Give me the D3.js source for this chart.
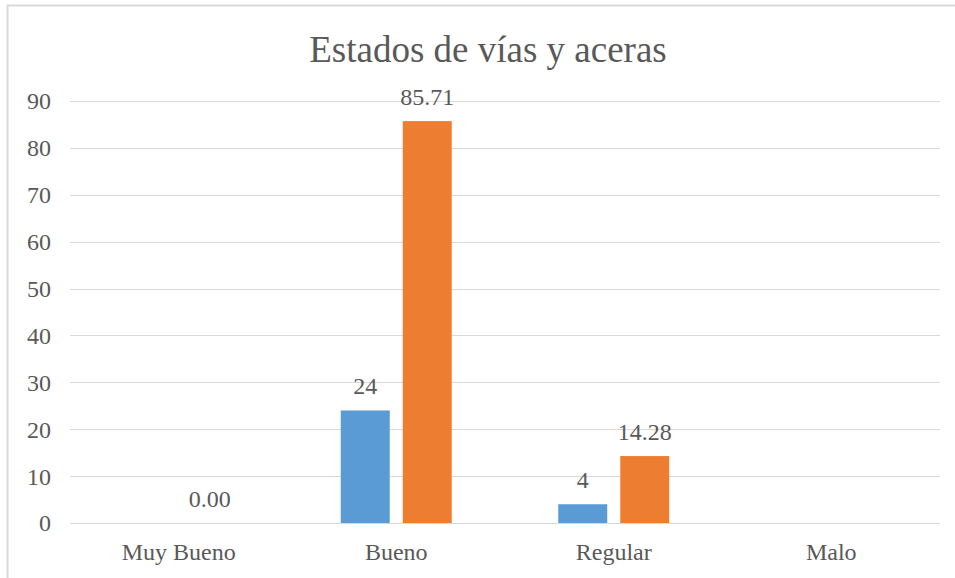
<!DOCTYPE html>
<meta charset="utf-8">
<style>
body { margin: 0; background: #fff; }
svg { display: block; }
svg text { font-family: "Times New Roman", "Liberation Serif", Tinos, "DejaVu Serif", serif; }
.grid line { stroke: #d9d9d9; stroke-width: 1px; }
.tick-label, .cat-label, .bar-label { fill: #595959; font-size: 24px; }
.title { fill: #595959; font-size: 37px; }
</style>
<div id="chart"></div>
<script src="https://d3js.org/d3.v7.min.js"></script>
<script>
  var categories = ["Muy Bueno", "Bueno", "Regular", "Malo"];
  var seriesBlue = [null, 24, 4, null];
  var seriesOrange = [0, 85.71, 14.28, null];
  var labelsBlue = [null, "24", "4", null];
  var labelsOrange = ["0.00", "85.71", "14.28", null];
  var yTicks = [0, 10, 20, 30, 40, 50, 60, 70, 80, 90];
  var title = "Estados de vías y aceras";

  var width = 955, height = 578;
  var plot = { left: 70, right: 940, top: 101, bottom: 523 };

  var svg = d3.select("#chart")
    .append("svg")
    .attr("width", width)
    .attr("height", height);

  // outer chart border (runs off right and bottom edges)
  svg.append("rect")
    .attr("x", 7.5)
    .attr("y", 5.5)
    .attr("width", 960)
    .attr("height", 600)
    .attr("fill", "none")
    .attr("stroke", "#d9d9d9")
    .attr("stroke-width", 2);

  svg.append("text")
    .attr("class", "title")
    .attr("x", 488)
    .attr("y", 62)
    .attr("text-anchor", "middle")
    .text(title);

  var y = d3.scaleLinear()
    .domain([0, 90])
    .range([plot.bottom, plot.top]);

  var x = d3.scaleBand()
    .domain(categories)
    .range([plot.left, plot.right]);

  var barW = 49, gap = 13;
  var offsets = [-(gap / 2 + barW), gap / 2];

  var grid = svg.append("g").attr("class", "grid");
  grid.selectAll("line")
    .data(yTicks)
    .enter()
    .append("line")
    .attr("x1", plot.left)
    .attr("x2", plot.right)
    .attr("y1", function(d) { return Math.round(y(d)) + 0.5; })
    .attr("y2", function(d) { return Math.round(y(d)) + 0.5; });

  svg.selectAll(".tick-label")
    .data(yTicks)
    .enter()
    .append("text")
    .attr("class", "tick-label")
    .attr("x", 51)
    .attr("y", function(d) { return y(d); })
    .attr("dy", "0.35em")
    .attr("text-anchor", "end")
    .text(function(d) { return d; });

  svg.selectAll(".cat-label")
    .data(categories)
    .enter()
    .append("text")
    .attr("class", "cat-label")
    .attr("x", function(d) { return x(d) + x.bandwidth() / 2; })
    .attr("y", 560)
    .attr("text-anchor", "middle")
    .text(function(d) { return d; });

  var series = [
    { values: seriesBlue, labels: labelsBlue, color: "#5b9bd5" },
    { values: seriesOrange, labels: labelsOrange, color: "#ed7d31" }
  ];

  series.forEach(function(s, si) {
    var rows = categories.map(function(c, i) {
      return { cat: c, value: s.values[i], label: s.labels[i] };
    }).filter(function(d) { return d.value !== null; });

    svg.selectAll(".bar-" + si)
      .data(rows)
      .enter()
      .append("rect")
      .attr("class", "bar-" + si)
      .attr("x", function(d) { return x(d.cat) + x.bandwidth() / 2 + offsets[si]; })
      .attr("y", function(d) { return y(d.value); })
      .attr("width", barW)
      .attr("height", function(d) { return y(0) - y(d.value); })
      .attr("fill", s.color);

    svg.selectAll(".label-" + si)
      .data(rows.filter(function(d) { return d.label !== null; }))
      .enter()
      .append("text")
      .attr("class", "bar-label label-" + si)
      .attr("x", function(d) { return x(d.cat) + x.bandwidth() / 2 + offsets[si] + barW / 2; })
      .attr("y", function(d) { return y(d.value) - 16; })
      .attr("text-anchor", "middle")
      .text(function(d) { return d.label; });
  });
</script>
